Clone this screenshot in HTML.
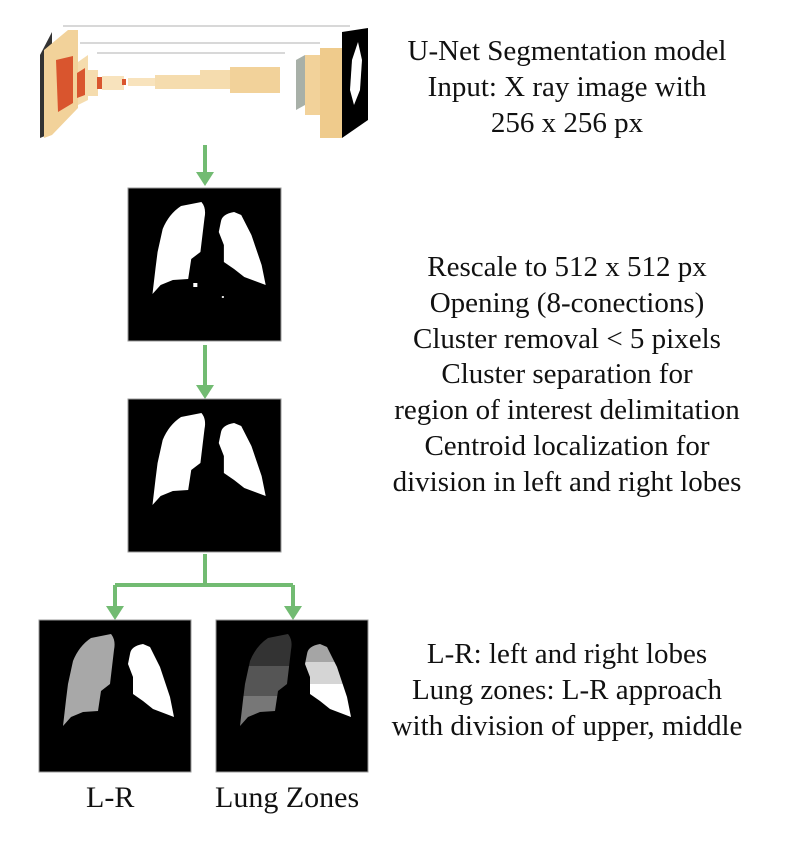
<!DOCTYPE html>
<html><head><meta charset="utf-8">
<style>
body{margin:0;background:#fff;width:800px;height:848px;overflow:hidden;position:relative;font-family:"Liberation Serif","Times New Roman",serif;}
.txt{position:absolute;left:362px;width:410px;text-align:center;font-family:"Liberation Serif","Times New Roman",serif;font-size:29px;line-height:35.8px;color:#111;white-space:nowrap;}
.lbl{position:absolute;font-family:"Liberation Serif","Times New Roman",serif;font-size:30px;color:#111;white-space:nowrap;}
svg{position:absolute;left:0;top:0;}
</style></head>
<body>
<svg width="800" height="848">
<defs>
<path id="lungL" d="M72,14 Q77,20 75,30 L71,64 L62,71 L59,91 L44,92 L32,97 L24,106 L27,80 L29,64 L34,41 Q40,26 52,18 Z"/>
<path id="lungR" d="M91,34 Q92,26 104,24 L111,27 L121,47 L131,77 L135,97 L114,89 L104,81 L94,74 L94,57 L89,44 Z"/>
<clipPath id="cL"><use href="#lungL"/></clipPath>
<clipPath id="cR"><use href="#lungR"/></clipPath>
</defs>
<g>
<line x1="63" y1="26" x2="350" y2="26" stroke="#999" stroke-width="0.7"/>
<line x1="80" y1="43" x2="320" y2="43" stroke="#999" stroke-width="0.7"/>
<line x1="97" y1="53" x2="285" y2="53" stroke="#999" stroke-width="0.7"/>
<polygon points="40,55 52,32 52,133 40,138" fill="#333"/>
<polygon points="44,50 68,30 78,30 78,108 52,135 44,138" fill="#f2d29a"/>
<polygon points="56,60 73,56 73,103 58,112" fill="#d9552e"/>
<polygon points="78,62 88,55 88,100 78,105" fill="#f5dcae"/>
<polygon points="77,73 85,68 85,95 77,98" fill="#d9552e"/>
<rect x="88" y="70" width="10" height="26" fill="#f5dcae"/>
<rect x="97" y="77" width="5" height="12" fill="#d9552e"/>
<rect x="102" y="76" width="22" height="14" fill="#f8e3bd"/>
<rect x="122" y="79" width="4" height="6" fill="#d9552e"/>
<rect x="128" y="78" width="28" height="8" fill="#f8e3bd"/>
<rect x="155" y="75" width="45" height="14" fill="#f5dcae"/>
<rect x="200" y="70" width="35" height="19" fill="#f5dcae"/>
<rect x="230" y="67" width="50" height="26" fill="#f2d29a"/>
<polygon points="296,60 305,55 305,105 296,110" fill="#a8b0a8"/>
<rect x="305" y="55" width="15" height="60" fill="#f2d29a"/>
<rect x="320" y="48" width="22" height="90" fill="#efcb8c"/>
<polygon points="342,32 368,28 368,120 342,138" fill="#000"/>
<path d="M352,60 L358,42 L362,60 L360,90 L354,105 L350,90 Z" fill="#fff"/>
</g>
<g stroke="#72bb72" stroke-width="4" fill="#72bb72">
<line x1="205" y1="145" x2="205" y2="176"/>
<polygon points="196,172 214,172 205,186" stroke="none"/>
<line x1="205" y1="345" x2="205" y2="389"/>
<polygon points="196,385 214,385 205,399" stroke="none"/>
<line x1="205" y1="554" x2="205" y2="585"/>
<line x1="115" y1="585" x2="293" y2="585"/>
<line x1="115" y1="585" x2="115" y2="610"/>
<line x1="293" y1="585" x2="293" y2="610"/>
<polygon points="106,606 124,606 115,620" stroke="none"/>
<polygon points="284,606 302,606 293,620" stroke="none"/>
</g>
<g transform="translate(128,188) scale(1.02,1)">
<rect width="150" height="153" fill="#000" stroke="#999"/>
<use href="#lungL" fill="#fff"/><use href="#lungR" fill="#fff"/>
<rect x="64" y="95" width="4" height="4" fill="#fff"/>
<rect x="92" y="108" width="2" height="2" fill="#ddd"/>
</g>
<g transform="translate(128,399) scale(1.02,1)">
<rect width="150" height="153" fill="#000" stroke="#999"/>
<use href="#lungL" fill="#fff"/><use href="#lungR" fill="#fff"/>
</g>
<g transform="translate(39,620)">
<rect width="152" height="152" fill="#000" stroke="#999"/>
<use href="#lungL" fill="#a8a8a8"/><use href="#lungR" fill="#fff"/>
</g>
<g transform="translate(216,620)">
<rect width="152" height="152" fill="#000" stroke="#999"/>
<g clip-path="url(#cL)"><rect y="0" width="152" height="46" fill="#333"/><rect y="46" width="152" height="30" fill="#555"/><rect y="76" width="152" height="60" fill="#777"/></g>
<g clip-path="url(#cR)"><rect y="0" width="152" height="42" fill="#a5a5a5"/><rect y="42" width="152" height="22" fill="#d5d5d5"/><rect y="64" width="152" height="60" fill="#fff"/></g>
</g>
</svg>
<div class="txt" style="top:34px">U-Net Segmentation model<br>Input: X ray image with<br>256 x 256 px</div>
<div class="txt" style="top:250px">Rescale to 512 x 512 px<br>Opening (8-conections)<br>Cluster removal &lt; 5 pixels<br>Cluster separation for<br>region of interest delimitation<br>Centroid localization for<br>division in left and right lobes</div>
<div class="txt" style="top:637px">L-R: left and right lobes<br>Lung zones: L-R approach<br>with division of upper, middle</div>
<div class="lbl" style="left:86px;top:781px">L-R</div>
<div class="lbl" style="left:215px;top:781px">Lung Zones</div>
</body></html>
